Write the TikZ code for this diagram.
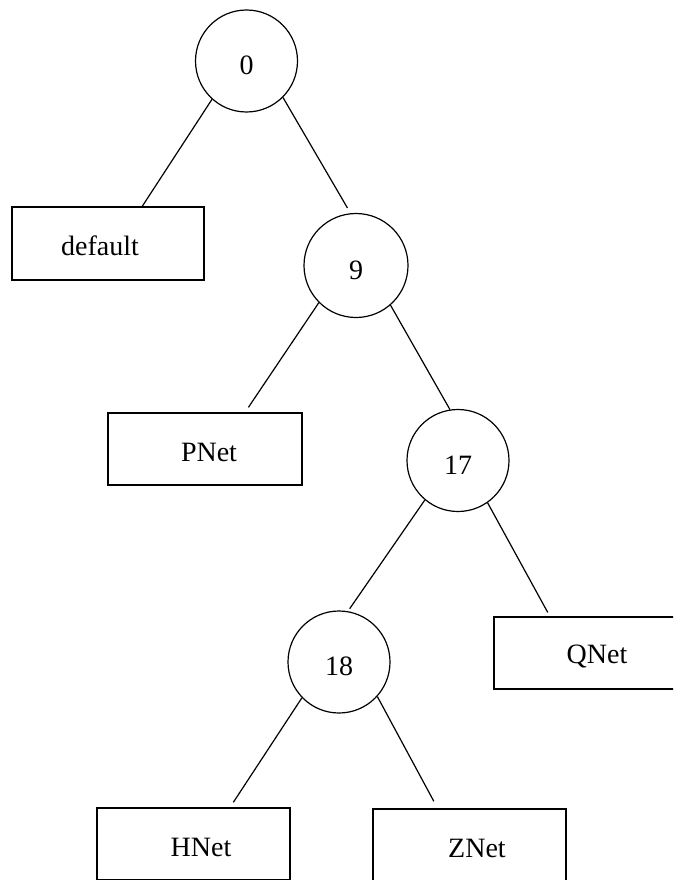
\documentclass[tikz,border=0pt]{standalone}
\usepackage{fontspec}
\setmainfont{Liberation Serif}
\usetikzlibrary{calc}
\begin{document}
\begin{tikzpicture}[x=1pt,y=-1pt,
  keynode/.style={draw, circle, line width=1.2pt, minimum size=102pt, inner sep=0pt,
    font=\fontsize{28}{28}\selectfont, text height=27pt, text depth=0pt},
  leafbox/.style={draw, rectangle, line width=1.3pt, minimum width=193pt,
    minimum height=72pt, inner sep=0pt},
  leaftext/.style={font=\fontsize{28}{28}\selectfont, inner sep=0pt},
  link/.style={line width=1.2pt}]
\useasboundingbox (0,0) rectangle (673,880);
\clip (0,0) rectangle (673,880);

% decision nodes
\node[keynode] (c0)  at (246.5,61)  {0};
\node[keynode, minimum size=104pt] (c9) at (356,265.5) {9};
\node[keynode] (c17) at (458,460.5) {17};
\node[keynode] (c18) at (339,662)   {18};

% leaf networks
\node[leafbox, minimum width=192pt, minimum height=73pt,
  label={[leaftext, xshift=-8pt, yshift=-2.5pt]center:default}] (default) at (108,243.5) {};
\node[leafbox, minimum width=194pt,
  label={[leaftext, xshift=4pt, yshift=-3pt]center:PNet}] (pnet) at (205,449) {};
\node[leafbox,
  label={[leaftext, xshift=6.5pt, yshift=-3pt]center:QNet}] (qnet) at (590.5,653) {};
\node[leafbox,
  label={[leaftext, xshift=7.5pt, yshift=-3pt]center:HNet}] (hnet) at (193.5,844) {};
\node[leafbox,
  label={[leaftext, xshift=7.5pt, yshift=-3pt]center:ZNet}] (znet) at (469.5,845) {};

% branches
\draw[link] (c0.228) -- ($(default.north west)!0.677!(default.north east)$);
\draw[link, shorten >=6pt] (c0.315) -- (c9.96);
\draw[link, shorten >=6pt] (c9.225) -- ($(pnet.north west)!0.705!(pnet.north east)$);
\draw[link] (c9.311) -- (c17.99);
\draw[link, shorten >=3pt] (c17.230) -- (c18.80);
\draw[link, shorten >=4.5pt] (c17.305) -- ($(qnet.north west)!0.291!(qnet.north east)$);
\draw[link, shorten >=6pt] (c18.224) -- ($(hnet.north west)!0.688!(hnet.north east)$);
\draw[link, shorten >=8pt] (c18.318) -- ($(znet.north west)!0.336!(znet.north east)$);
\end{tikzpicture}
\end{document}
